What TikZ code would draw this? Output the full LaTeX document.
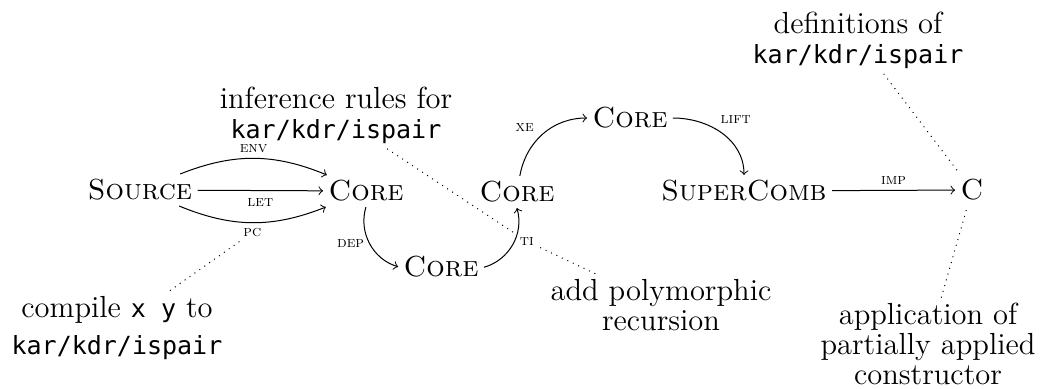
\documentclass[tikz,border=0pt]{standalone}
\usepackage{fontspec}
\setmonofont{DejaVu Sans Mono}
\newcommand{\code}[1]{{\ttfamily\fontsize{10}{12}\selectfont #1}}
\begin{document}
\begin{tikzpicture}[x=0.4pt,y=0.4pt,
  stage/.style={font=\fontsize{11.6}{13}\selectfont\scshape, inner sep=2pt},
  note/.style={font=\fontsize{12.2}{12}\selectfont, align=center, inner sep=2pt},
  lbl/.style={font=\fontsize{6.2}{7}\selectfont\scshape, inner sep=1pt},
  flow/.style={->, line width=0.4pt},
  link/.style={dotted}]
\useasboundingbox (0,0) rectangle (1044,-388);

% compiler stages
\node[stage] (src) at (140,-190) {Source};
\node[stage] (c1)  at (366,-191) {Core};
\node[stage] (c2)  at (441,-267) {Core};
\node[stage] (c3)  at (517,-192) {Core};
\node[stage] (c4)  at (630,-118) {Core};
\node[stage] (sc)  at (744,-191) {SuperComb};
\node[stage] (cc)  at (972,-190) {C};

% passes
\draw[flow] (src) to[bend left=22] node[lbl,above=1pt] {env} (c1);
\draw[flow] (src) -- node[lbl,below=2pt] {let} (c1);
\draw[flow] (src) to[bend right=22] node[lbl,below=1pt] (pc) {pc} (c1);
\draw[flow] (c1) to[bend right=45] node[lbl,pos=0.5,left=1pt] {dep} (c2);
\draw[flow] (c2) to[bend right=45] node[lbl,pos=0.55,right=1pt] (ti) {ti} (c3);
\draw[flow] (c3) to[out=80,in=180] node[lbl,pos=0.45,above left=1pt] {xe} (c4);
\draw[flow] (c4) to[out=0,in=90] node[lbl,pos=0.42,above right=1pt] {lift} (sc);
\draw[flow] (sc) -- node[lbl,above=1pt] {imp} (cc);

% remarks
\node[note] (infer) at (336,-115) {inference rules for\\\code{kar/kdr/ispair}};
\node[note] (defs)  at (858,-40)  {definitions of\\\code{kar/kdr/ispair}};
\node[note] (comp)  at (117,-328) {compile \code{x y} to\\[3pt]\code{kar/kdr/ispair}};
\node[note] (poly)  at (661,-305) {add polymorphic\\recursion};
\node[note] (app)   at (928,-344) {application of\\partially applied\\constructor};

\draw[link] (infer) -- (ti);
\draw[link] (poly) -- (ti);
\draw[link] (comp) -- (pc);
\draw[link] (defs) -- (cc);
\draw[link] (app) -- (cc);
\end{tikzpicture}
\end{document}
